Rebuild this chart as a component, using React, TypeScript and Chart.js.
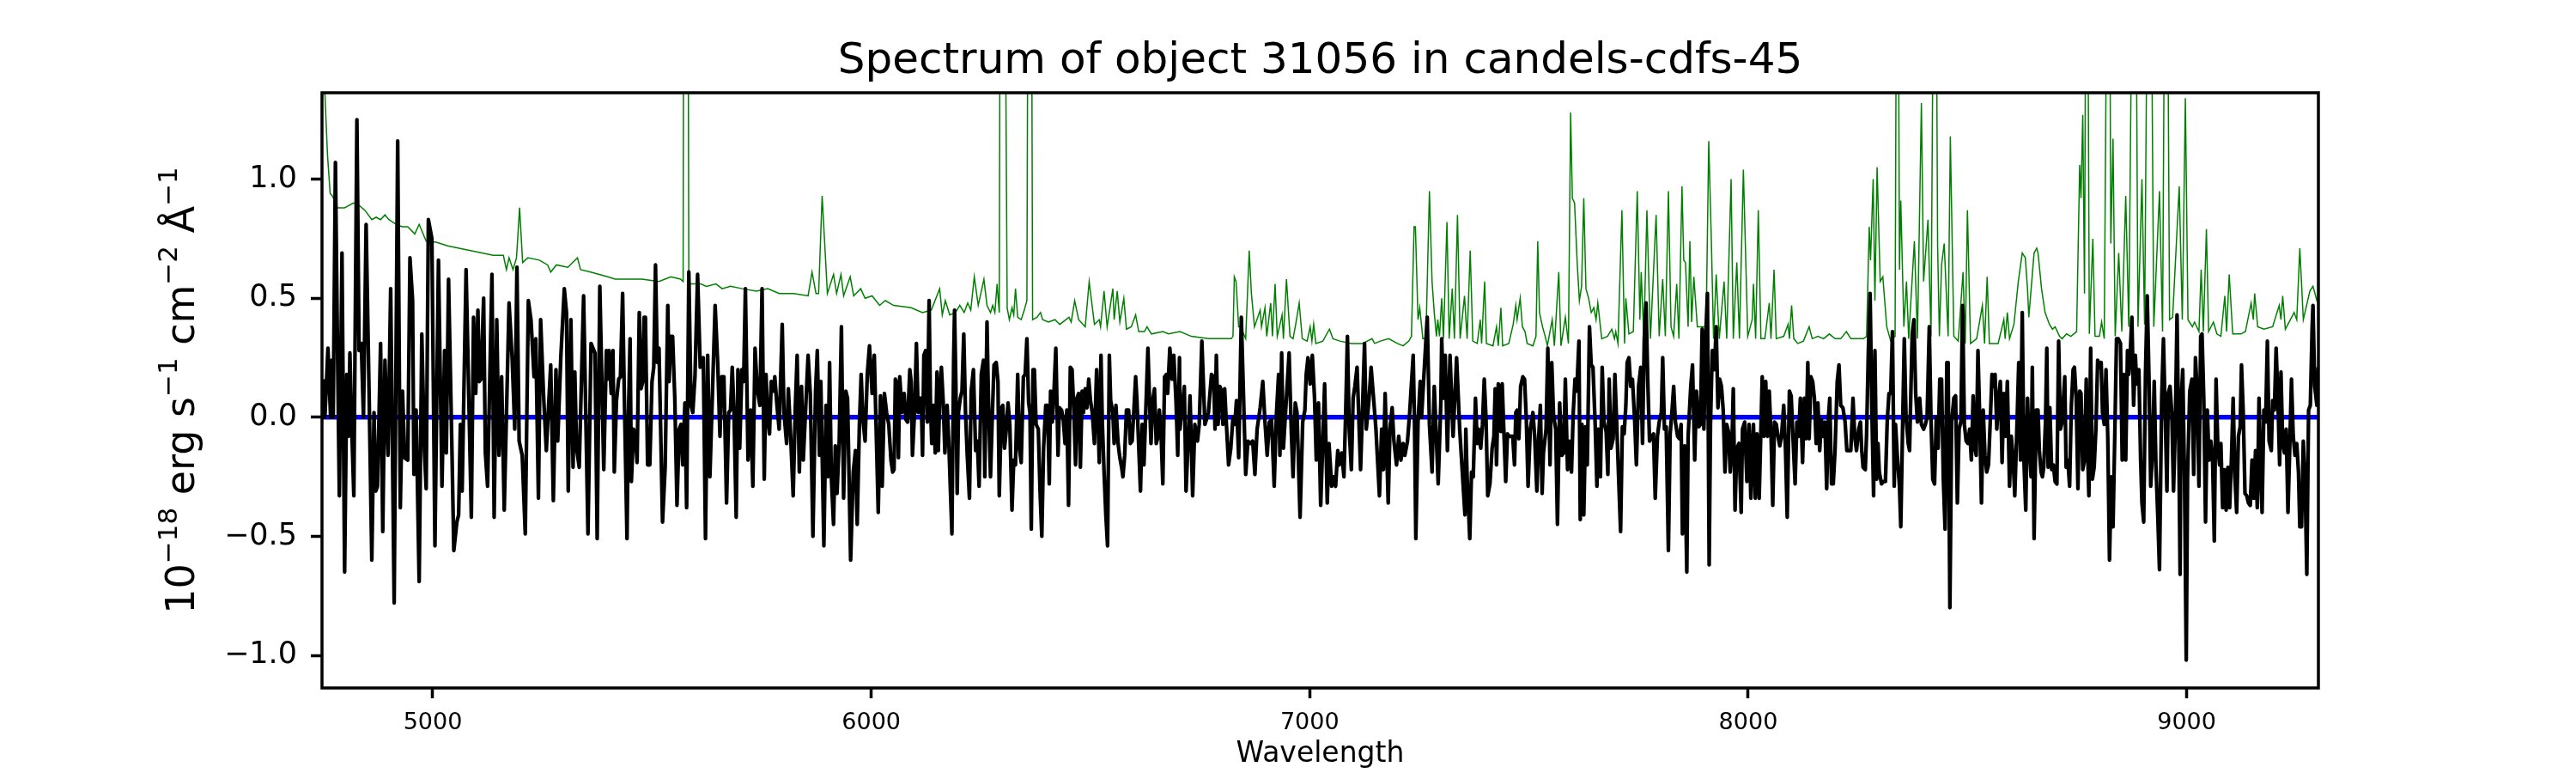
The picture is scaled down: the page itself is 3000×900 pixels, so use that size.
import React, { useEffect, useRef } from "react";
import { Chart, registerables } from "chart.js";

Chart.register(...registerables);

const TITLE = "Spectrum of object 31056 in candels-cdfs-45";
const X_LABEL = "Wavelength";
const xTicks = [5000, 6000, 7000, 8000, 9000];
const yTicks = [-1.0, -0.5, 0.0, 0.5, 1.0];
const xRange = [4747.4, 9300.4];
const yRange = [-1.137, 1.363];

// observed spectrum (black)
const specWave = [
  4750,4754,4761,4767,4770,4773,4778,4783,4787,4793,4799,4804,4808,4811,4815,4820,4827,4832,4837,4842,
  4848,4855,4861,4866,4870,4874,4881,4886,4891,4898,4904,4912,4920,4926,4931,4936,4943,4948,4954,4957,
  4962,4969,4975,4981,4985,4990,4998,5005,5013,5021,5027,5031,5036,5044,5048,5055,5059,5063,5067,5076,
  5088,5093,5098,5103,5106,5110,5116,5120,5125,5135,5140,5146,5151,5157,5163,5174,5181,5187,5192,5197,
  5204,5211,5218,5224,5231,5235,5241,5246,5253,5259,5262,5269,5275,5281,5285,5292,5300,5305,5309,5315,
  5320,5324,5328,5334,5344,5354,5361,5370,5375,5381,5390,5396,
  5399,5402,5407,5411,5414,5419,5424,5428,5433,5437,5443,5446,5450,5453,5458,5462,5466,5471,5475,5479,
  5482,5485,5490,5495,5500,5504,5508,5512,5516,5520,5524,5530,5536,5539,5543,5547,5552,5557,5562,5566,
  5570,5575,5579,5584,5589,5593,5598,5604,5610,5617,5622,5627,5632,5638,5644,5650,5655,5659,5664,5670,
  5675,5679,5683,5687,5692,5696,5700,5705,5709,5713,5719,5725,5730,5735,5740,5746,5751,5756,5760,5764,
  5768,5772,5777,5780,5785,5790,5797,5801,5807,5811,5816,5822,5827,5831,5836,5841,5845,5849,5856,5861,
  5867,5873,5877,5882,5885,5892,5897,5901,5905,5909,5914,5918,5922,5927,5932,5937,5942,5946,5953,5959,
  5964,5968,5973,5977,5981,5986,5991,5996,6002,6007,6012,6016,6021,6025,6030,6035,6040,6045,6049,
  6052,6055,6059,6062,6065,6070,6075,6079,6083,6088,6091,6094,6099,6103,6107,6111,6114,6117,6120,6124,
  6128,6132,6135,6138,6142,6146,6150,6153,6156,6160,6164,6168,6173,6177,6181,6184,6188,6190,6193,6196,
  6199,6203,6207,6211,6215,6219,6224,6228,6233,6238,6242,6246,6251,6256,6259,6264,6267,6272,6276,6280,
  6285,6289,6292,6297,6300,6304,6308,6312,6316,6321,6325,6329,6334,6338,6342,6347,6351,6355,6359,6362,
  6365,6369,6372,6376,6381,6385,6389,6393,6398,6402,6406,6409,6413,6417,6421,6426,6429,6434,6438,6442,
  6446,6450,6454,6458,6462,6466,6469,6473,6477,6481,6484,6488,6492,6496,6500,6504,6509,6514,6517,6520,
  6524,6527,6531,6535,6539,6543,6546,6551,6554,6558,6563,6567,6571,6574,6578,6582,6587,6591,6595,6599,
  6603,6606,6610,6614,6618,6622,6626,6631,6634,6638,6642,6646,6650,6653,6657,6661,6665,6669,6673,6676,
  6681,6686,6690,6695,6699,6703,
  6704,6714,6718,6727,6733,6738,6744,6748,6754,6761,6766,6769,6776,6781,6784,6787,6791,6795,6799,6802,
  6806,6810,6815,6820,6825,6829,6833,6838,6844,6854,6859,6865,6870,6875,6880,6887,6893,6898,6903,6908,
  6913,6919,6924,6929,6932,6936,6940,6953,6958,6962,6967,6971,6978,6984,6989,6992,6996,7001,7006,7011,
  7015,7020,7025,7029,7034,7040,7044,7050,7054,7059,7064,7067,7073,7078,7082,7086,7090,7095,7099,7103,
  7108,7116,7125,7129,7135,7140,7146,7151,7159,7164,7168,7172,7179,7183,7188,7192,7198,7203,7208,7213,
  7217,7223,7228,7236,7239,7242,7247,7252,7255,7268,7273,7279,7284,7293,7299,7301,7305,7309,7314,7320,
  7327,7335,7342,7354,
  7356,7359,7365,7369,7373,7378,7382,7385,7390,7394,7398,7402,7406,7411,7416,7420,7423,7426,7430,7433,
  7436,7439,7443,7447,7451,7455,7463,7467,7470,7473,7477,7481,7486,7490,7494,7498,7503,7509,7513,7518,
  7522,7526,7530,7533,7539,7543,7548,7552,7556,7561,7565,7570,7575,7579,7583,7588,7592,7597,7601,7605,
  7609,7614,7617,7621,7625,7629,7633,7638,7642,7646,7651,7655,7658,7663,7667,7671,7676,7680,7683,7687,
  7692,7696,7700,7705,7709,7713,7717,7721,7724,7728,7732,7736,7741,7745,7750,7755,7759,7763,7767,7771,
  7775,7780,7784,7788,7793,7797,7802,7805,7809,7813,7818,7822,7826,7830,7834,7839,7843,7847,7850,7855,
  7860,7863,7869,7873,7878,7882,7887,7891,7895,7899,7903,7907,7911,7914,7918,7923,7927,7931,7935,7939,
  7943,7947,7951,7955,7959,7963,7966,7970,7974,7979,7984,7987,7992,7997,8002,8006,
  8009,8012,8016,8020,8025,8029,8032,8036,8040,8044,8048,8052,8056,8060,8064,8068,8072,8076,8081,8085,
  8089,8094,8098,8102,8107,8111,8115,8119,8124,8128,8132,8136,8139,8143,8147,8151,8155,8159,8163,8167,
  8171,8175,8179,8183,8186,8190,8194,8198,8203,8207,8211,8216,8221,8225,8229,8234,8239,8243,8247,8252,
  8256,8259,8262,8267,8270,8274,8278,8282,8286,8289,8293,8296,8299,8304,8308,8313,8317,8321,8325,8329,
  8333,8336,8340,8345,8348,8352,8356,8360,8365,8368,8372,8374,8378,8382,8386,8391,8395,8400,8404,8408,
  8413,8417,8421,8425,8429,8433,8437,8441,8445,8449,8453,8456,8460,8464,8469,8473,8477,8481,8485,8489,
  8493,8497,8501,8505,8509,8513,8517,8520,8524,8528,8532,8536,8540,8544,8548,8552,8556,8560,8563,8567,
  8571,8575,8579,8583,8587,8591,8596,8600,8604,8608,8613,8617,8621,8625,8629,8633,8637,8640,8645,8648,
  8652,8657,
  8661,8664,8668,8671,8674,8678,8681,8684,8688,8692,8696,8700,8704,8708,8712,8716,8718,8722,8725,8729,
  8733,8737,8741,8744,8748,8752,8756,8759,8763,8767,8771,8773,8777,8781,8785,8789,8793,8797,8801,8805,
  8808,8812,8816,8820,8824,8828,8832,8836,8840,8844,8849,8853,8857,8861,8865,8868,8871,8875,8879,8883,
  8886,8891,8895,8898,8902,8906,8910,8914,8918,8922,8926,8930,8934,8938,8943,8947,8951,8955,8958,8962,
  8966,8970,8974,8978,8982,8985,8987,8991,8995,8999,9002,9007,9012,9016,9020,9024,9028,9032,9035,9039,
  9043,9047,9051,9055,9059,9063,9067,9071,9075,9078,9082,9086,9090,9094,9098,9102,9106,9110,9114,9118,
  9122,9125,9129,9133,9137,9141,9145,9149,9153,9157,9161,9165,9169,9172,9176,9180,9184,9188,9193,9196,
  9200,9204,9208,9212,9215,9219,9223,9227,9231,9235,9239,9243,9247,9251,9255,9258,9262,9266,9270,9274,
  9278,9282,9286,9288,9292,9297,9300,
];
const specFlux = [
  0.16,0,0.29,0,0.24,0,1.07,0.25,-0.33,0.69,-0.65,0.18,-0.08,0.27,-0.03,-0.33,1.25,0.28,0.31,0,
  0.81,0.08,-0.60,0.02,-0.31,-0.29,0.31,-0.48,0.24,-0.16,0.54,-0.78,1.16,-0.38,0.11,-0.17,-0.18,0.67,0.49,-0.24,
  0.03,-0.69,0.35,-0.14,-0.30,0.83,0.75,-0.54,0.66,-0.29,0.28,-0.15,0.58,-0.16,-0.56,-0.44,-0.41,-0.03,-0.31,0.62,
  -0.42,0.42,0.10,0.45,0.15,0.16,0.50,-0.15,-0.29,0.60,-0.42,0.41,-0.16,0.17,-0.39,0.48,0.25,-0.05,0.63,-0.10,
  -0.16,-0.49,0.49,0.41,0.17,0.33,-0.34,0.41,0.08,-0.14,-0.03,0.22,-0.35,0.20,-0.10,0.25,0.54,0.44,-0.31,0.41,
  -0.21,0.19,-0.13,-0.21,0.51,-0.49,0.31,0.27,-0.51,0.55,-0.22,0.28,
  0.16,0.28,0.10,0.28,-0.23,0.07,0.16,0.17,0.52,0.08,-0.51,-0.02,0.33,-0.27,-0.05,-0.07,-0.19,0.44,0.12,0.15,
  0.42,0.42,-0.20,-0.20,0.15,0.21,0.64,0.23,0.29,-0.07,-0.44,-0.21,0.47,0.15,0.34,0.34,0.08,-0.37,-0.05,-0.03,
  -0.20,0.06,-0.38,0.61,0.05,0.02,0.17,0.60,0.21,0.25,-0.51,0.26,-0.25,0.11,0.47,0.22,-0.08,0.17,0.17,-0.36,
  0.02,0.03,0.21,0.02,-0.42,0.20,-0.13,0.20,0.15,0.54,-0.18,0.03,-0.29,0.29,0.12,0.05,0.54,-0.26,0.18,0,
  -0.07,0.15,0.11,0.17,0.05,-0.05,0.39,0.02,-0.11,0.12,-0.07,-0.33,0.05,0.26,-0.23,0.13,-0.18,-0.02,0.26,0.10,
  -0.50,0.11,0.28,-0.16,0.15,-0.54,0.05,-0.25,0.23,-0.25,-0.45,-0.12,-0.32,-0.10,0.38,-0.34,0.11,0.08,-0.60,-0.23,
  -0.14,-0.45,-0.03,0.18,-0.01,-0.10,0.18,0.30,0.10,0.26,-0.11,-0.40,0.09,-0.29,0.10,0.02,-0.03,-0.18,-0.23,
  -0.22,0.16,0.14,-0.17,0.17,0.02,0.10,-0.01,-0.02,0.20,0.15,-0.16,0.03,0.31,0.02,0.08,0.08,-0.16,0.26,0.28,
  -0.02,0.49,0.06,-0.11,0.05,-0.15,0.19,-0.14,0.07,0.21,0.07,-0.15,0.05,-0.11,-0.33,-0.49,0.25,0.45,0.14,-0.32,
  0.02,0.08,0.11,0.35,0.02,-0.16,-0.34,0.11,0.20,-0.14,-0.10,-0.29,0.18,0.24,-0.25,0.40,0.10,-0.25,0,0.22,
  0.23,0.15,-0.33,0.04,0.05,-0.13,-0.05,0.06,-0.03,-0.39,-0.18,-0.20,0.18,-0.13,-0.19,0.17,0.18,0.33,0.06,0.02,
  -0.47,0.20,0.20,-0.03,-0.05,-0.31,-0.50,-0.13,0.05,0.05,-0.28,0.11,-0.02,0.12,0.29,-0.16,0.04,0.03,-0.01,-0.11,
  0.03,-0.37,0.21,0.20,0.03,-0.20,0.08,0.10,-0.21,0.11,0.02,0.12,0.04,0.16,0.07,0.02,-0.11,0.20,0.02,-0.19,
  0.26,-0.02,-0.23,-0.41,-0.54,0.26,0.07,0.02,-0.11,0.05,-0.11,-0.17,-0.21,-0.25,-0.16,0.03,0.03,-0.11,-0.10,0.03,
  0.17,0.07,-0.12,-0.31,-0.03,-0.20,0.02,0.29,0.11,-0.11,0.07,0.12,-0.11,-0.09,0.03,-0.07,-0.28,0.17,0.18,0.10,
  0.29,0.16,0.26,0.07,-0.16,0.25,
  -0.05,0.13,-0.31,0.09,-0.33,-0.03,-0.10,-0.03,0.32,-0.03,0,0.02,0.18,0.17,-0.05,0.26,-0.03,0.13,0.11,-0.03,
  0.12,-0.03,-0.20,-0.13,0,-0.03,0.07,-0.17,0.42,-0.24,-0.10,-0.11,-0.10,-0.24,-0.05,0.04,0.15,-0.02,-0.16,-0.02,
  -0.01,-0.29,0.01,0.18,-0.16,0.27,-0.13,0.27,-0.06,-0.25,0.06,0.02,-0.42,-0.02,0.03,0.18,0.25,0.14,0.26,0.08,
  -0.18,0.06,-0.37,-0.15,0.14,-0.36,-0.11,-0.29,-0.25,-0.29,-0.14,-0.20,-0.15,-0.25,0.02,0.34,-0.05,-0.22,0.08,0.13,
  0.21,-0.22,0.31,-0.05,0.07,0.21,0.07,-0.05,-0.33,-0.05,-0.22,0.10,-0.36,-0.05,0.04,-0.10,-0.20,-0.08,-0.18,-0.11,
  -0.16,-0.10,0.02,0.26,-0.03,-0.51,-0.02,0.15,0,0.42,-0.03,-0.23,0.13,-0.28,0.06,0.33,0.08,0.26,-0.14,0.26,
  -0.08,0.25,-0.05,-0.41,
  -0.05,-0.25,-0.51,-0.23,-0.25,0.08,-0.11,-0.05,-0.13,-0.03,0.16,0,-0.33,-0.28,-0.13,-0.08,0.12,-0.20,0.14,0.13,
  -0.06,0.14,-0.07,-0.27,-0.07,-0.08,-0.08,-0.20,0.02,0.03,-0.09,0.13,0.17,0.16,-0.01,-0.29,-0.05,0.02,-0.08,-0.31,
  -0.09,0.05,-0.32,-0.15,-0.05,0.29,-0.20,0.23,0.01,-0.05,-0.45,0.06,-0.16,-0.15,0.16,-0.22,-0.10,-0.23,0.02,0.16,
  0.11,0.32,-0.43,-0.03,-0.41,-0.04,-0.20,0.38,0.22,0.21,-0.03,-0.29,-0.05,-0.25,0.21,-0.02,-0.06,-0.24,0.16,-0.13,
  -0.09,0.18,-0.02,-0.28,-0.48,-0.04,-0.07,0.05,0.23,0.25,0.13,0.16,-0.01,-0.20,0.13,0.21,-0.11,0.33,0.48,0.15,
  -0.10,-0.08,-0.07,-0.34,-0.08,-0.02,0.02,0.25,-0.05,-0.04,-0.56,-0.07,0.02,0.13,-0.02,-0.08,-0.09,-0.03,-0.49,-0.12,
  -0.65,-0.08,0.13,0.22,-0.18,0.11,-0.04,-0.03,0.37,-0.05,0.33,0.52,-0.62,-0.03,0.28,0.20,0.38,0.04,0.16,0.13,
  0.03,-0.23,-0.03,-0.06,-0.23,-0.11,0.12,-0.39,-0.13,-0.11,-0.40,-0.05,-0.02,-0.27,-0.03,-0.34,
  -0.15,-0.03,-0.34,-0.07,-0.34,-0.05,0.17,-0.08,0.15,-0.08,0.11,-0.07,-0.37,-0.02,-0.03,-0.08,-0.12,-0.08,0.05,-0.13,
  -0.42,0.11,0.09,-0.08,-0.28,-0.02,-0.08,0.08,-0.19,0.08,-0.09,0.23,-0.09,0.17,0.15,0.08,-0.11,0.06,-0.14,-0.01,
  -0.08,-0.02,-0.30,0,0.08,-0.28,-0.28,-0.14,0.15,0.22,0.05,0.04,-0.02,-0.14,-0.14,-0.14,0.08,-0.08,-0.14,-0.05,
  -0.02,-0.14,-0.21,-0.22,-0.07,0.28,0.52,0.03,-0.33,0.28,-0.26,-0.11,-0.23,-0.28,-0.27,-0.27,-0.02,0.10,0.10,0.36,
  -0.29,-0.03,-0.16,-0.29,-0.46,-0.05,0.33,0,-0.11,-0.14,0.19,0.35,0.41,0.10,-0.02,0.08,-0.03,-0.05,-0.03,0,
  0.38,-0.02,-0.26,-0.28,0,-0.13,0.16,0.16,-0.26,-0.47,0.23,0.23,-0.80,-0.02,0.08,0.09,-0.36,-0.05,-0.02,0.47,
  -0.03,-0.10,-0.11,-0.05,-0.18,0.09,-0.13,-0.16,0.28,0,-0.36,0.03,-0.16,-0.23,-0.20,-0.02,0.18,0.13,0.18,-0.05,
  0.08,0.15,-0.19,0.10,-0.08,0.15,-0.29,-0.08,-0.17,-0.33,-0.03,0.23,-0.18,0.44,-0.19,-0.39,0.08,-0.08,-0.25,0.21,
  -0.51,0.03,
  0.03,-0.14,-0.23,-0.25,-0.21,-0.02,0.29,-0.21,0.04,-0.22,-0.20,-0.27,-0.28,0.32,-0.05,-0.02,0.05,0.17,-0.21,-0.18,
  -0.29,0.05,0.20,0.21,0.08,-0.30,0.11,0.10,-0.22,-0.18,0.16,-0.08,-0.33,0.29,-0.26,-0.21,-0.05,0.24,0.21,0.23,
  0.02,-0.03,0.20,-0.08,-0.60,-0.25,-0.46,-0.08,0.33,0.33,0.31,-0.18,0.18,-0.18,0.28,0.18,0.26,0.42,0.05,0.26,
  0.14,0.20,-0.18,-0.36,-0.44,0.18,0.51,0.17,-0.29,-0.15,0.15,-0.21,-0.41,-0.64,0.08,0.33,0.02,-0.31,0.10,0.13,
  0.02,-0.31,-0.04,0.43,-0.11,-0.66,0.05,0.20,-0.25,-1.02,-0.25,0.11,0.16,-0.24,0.25,0.11,-0.29,0.34,0.35,0.08,
  -0.44,0.03,-0.18,-0.10,-0.17,-0.52,0.16,-0.12,-0.20,-0.11,-0.38,-0.22,-0.39,-0.21,-0.38,-0.18,0.08,-0.25,-0.40,-0.08,
  -0.04,0.22,0.02,-0.32,-0.33,-0.36,-0.37,-0.18,-0.34,-0.14,-0.38,0.08,-0.25,-0.40,0.03,-0.02,0.32,-0.10,-0.14,0.07,
  0.03,0.29,0.08,-0.20,0.19,-0.11,-0.15,-0.05,-0.40,-0.13,0.16,-0.08,-0.16,-0.11,-0.23,-0.46,-0.46,-0.10,-0.27,-0.66,
  0.03,0.05,0.37,0.47,0.13,0.05,0.21,
];

// noise / sky spectrum (green); values of 3.0 are lines running off the top of the axes
const skyWave = [
  4747,4754,4760,4766,4771,4783,4799,4819,4832,4845,4861,4871,4881,4891,4900,4917,4930,4943,4959,4969,
  4985,5008,5034,5060,5086,5112,5138,5161,5168,5174,5183,5191,5198,5205,5217,5243,5262,5269,5282,5308,
  5330,5337,5360,5399,
  5416,5438,5477,5516,5543,5565,5571,5573,5581,5584,5601,5611,5624,5646,5660,5679,5706,5738,5764,5790,
  5823,5856,5865,5874,5880,5888,5893,5900,5914,5921,5931,5937,5952,5960,5976,5986,6002,6019,6032,6051,
  6091,6117,6137,6156,6162,6169,6179,6192,6202,6212,6220,6227,6235,6244,6257,6264,6272,6277,6282,6287,
  6292,6295,6302,6310,6315,6321,6325,6329,6334,6342,6349,6355,6359,6364,6368,6378,6386,6391,6404,6419,
  6430,6451,6456,6464,6473,6488,6497,6509,6520,6523,6531,6538,6551,6554,6561,6567,6576,6582,6593,6603,
  6610,6623,6629,6639,6665,6678,6704,
  6730,6769,6802,6821,6825,6828,6832,6838,6842,6854,6862,6867,6874,6887,6890,6898,6902,6911,6915,6921,
  6926,6937,6940,6947,6955,6962,6968,6976,6983,6994,7001,7005,7009,7014,7030,7045,7053,7069,7095,7121,
  7142,7148,7161,7180,7200,7213,7226,7232,7238,7241,7247,7251,7258,7265,7273,7279,7284,7289,7292,7296,
  7301,7305,7313,7318,7325,7330,7337,7343,7353,
  7359,7366,7372,7382,7389,7392,7399,7403,7418,7426,7430,7436,7440,7454,7464,7470,7473,7480,7485,7491,
  7496,7509,7516,7520,7524,7531,7537,7542,7553,7558,7568,7573,7583,7590,7595,7599,7604,7610,7615,7620,
  7625,7630,7636,7642,7648,7653,7657,7666,7679,7689,7695,7698,7703,7712,7718,7721,7728,7738,7747,7753,
  7756,7762,7769,7777,7790,7797,7805,7811,7818,7824,7830,7837,7842,7849,7853,7857,7863,7867,7871,7876,
  7884,7891,7904,7910,7916,7921,7927,7934,7945,7951,7961,7966,7974,7980,7989,7999,
  8009,8012,8017,8023,8029,8038,8048,8052,8059,8064,8081,8091,8094,8099,8104,8113,8126,8139,8146,8159,
  8172,8185,8198,8211,8224,8234,8263,8270,8276,8279,8285,8289,8294,8301,8307,8316,8325,8335,8340,8345,
  8348,8355,8361,8366,8379,8386,8395,8400,8410,8417,8426,8432,8436,8441,8447,8456,8461,8469,8479,8490,
  8495,8500,8507,8521,8534,8539,8545,8550,8570,8583,8586,8591,8596,8606,8616,8625,8632,8637,8640,8652,
  8658,
  8661,8669,8677,8687,8694,8700,8710,8716,8726,8736,8749,8756,8759,8763,8767,8772,8778,8786,8791,8801,
  8806,8812,8822,8827,8832,8837,8845,8852,8861,8868,8881,8889,8898,8904,8915,8925,8938,8945,8953,8961,
  8968,8983,8990,8997,9003,9013,9018,9028,9033,9038,9045,9050,9061,9069,9078,9087,9091,9097,9105,9124,
  9134,9147,9152,9155,9162,9176,9196,9211,9215,9219,9225,9245,9251,9258,9266,9281,9288,9297,9301,
];
const skyFlux = [
  1.50,1.36,1.10,0.94,0.93,0.88,0.88,0.90,0.89,0.87,0.83,0.84,0.83,0.85,0.83,0.81,0.80,0.80,0.77,0.81,
  0.74,0.735,0.72,0.71,0.70,0.69,0.68,0.68,0.62,0.67,0.62,0.67,0.88,0.65,0.67,0.66,0.64,0.61,0.64,0.63,
  0.67,0.62,0.61,0.59,
  0.58,0.58,0.58,0.57,0.59,0.58,0.57,3.0,3.0,0.56,0.56,0.56,0.55,0.56,0.54,0.55,0.54,0.53,0.54,0.52,
  0.52,0.51,0.61,0.52,0.52,0.93,0.76,0.52,0.60,0.52,0.60,0.51,0.59,0.51,0.54,0.50,0.51,0.47,0.49,0.47,
  0.46,0.44,0.45,0.54,0.43,0.49,0.43,0.44,0.47,0.44,0.48,0.45,0.59,0.47,0.58,0.47,0.44,0.47,0.44,0.56,
  0.44,3.0,3.0,0.46,0.41,0.46,0.43,0.54,0.42,0.41,0.45,0.49,3.0,3.0,0.41,0.42,0.44,0.41,0.40,0.41,
  0.39,0.42,0.40,0.49,0.41,0.38,0.57,0.39,0.41,0.38,0.53,0.38,0.54,0.41,0.53,0.40,0.50,0.37,0.38,0.43,
  0.36,0.36,0.38,0.35,0.36,0.35,0.36,
  0.34,0.33,0.33,0.33,0.34,0.59,0.57,0.38,0.38,0.33,0.70,0.52,0.38,0.45,0.38,0.46,0.34,0.48,0.34,0.56,
  0.34,0.43,0.33,0.58,0.34,0.33,0.39,0.48,0.33,0.32,0.38,0.32,0.39,0.31,0.32,0.37,0.33,0.32,0.31,0.31,
  0.33,0.31,0.32,0.33,0.31,0.30,0.32,0.34,0.80,0.80,0.41,0.46,0.33,0.33,0.95,0.57,0.44,0.34,0.41,0.34,
  0.50,0.33,0.82,0.33,0.54,0.33,0.85,0.33,0.51,
  0.33,0.70,0.32,0.31,0.41,0.31,0.57,0.31,0.30,0.38,0.30,0.46,0.30,0.31,0.39,0.47,0.41,0.50,0.38,0.36,
  0.31,0.30,0.34,0.74,0.44,0.38,0.34,0.30,0.41,0.30,0.61,0.30,0.42,0.31,1.28,0.92,0.90,0.65,0.49,0.55,
  0.92,0.54,0.50,0.44,0.46,0.41,0.48,0.33,0.34,0.37,0.33,0.36,0.31,0.87,0.31,0.50,0.35,0.36,0.95,0.41,
  0.61,0.33,0.87,0.33,0.85,0.34,0.58,0.34,0.95,0.38,0.34,0.56,0.33,0.97,0.66,0.65,0.38,0.74,0.40,0.59,
  0.38,0.38,0.38,1.16,0.74,0.33,0.60,0.33,0.57,0.33,1.00,0.33,0.65,0.33,1.04,0.34,
  0.41,0.56,0.33,0.87,0.33,0.33,0.48,0.33,0.62,0.33,0.34,0.39,0.33,0.47,0.33,0.31,0.32,0.38,0.33,0.34,
  0.33,0.35,0.33,0.33,0.36,0.33,0.33,0.34,0.80,0.66,1.00,0.49,1.05,0.57,0.59,0.38,0.32,0.34,3.0,0.62,
  0.91,0.38,0.57,0.33,0.74,0.33,1.32,0.57,0.83,0.34,3.0,0.72,0.34,0.64,0.73,0.34,1.18,0.34,0.32,0.61,
  0.31,0.87,0.31,0.33,0.47,0.31,0.59,0.31,0.31,0.41,0.33,0.44,0.33,0.39,0.57,0.69,0.67,0.54,0.42,0.69,
  0.71,
  0.69,0.54,0.44,0.39,0.37,0.38,0.34,0.33,0.35,0.34,0.36,1.06,0.92,1.27,0.52,3.0,0.35,0.75,0.34,0.34,
  0.40,0.33,3.0,0.73,1.17,0.34,0.69,0.36,0.93,0.38,3.0,0.38,1.00,0.39,3.0,0.38,0.95,0.36,3.0,0.41,
  0.42,0.97,0.41,1.34,0.41,0.38,0.40,0.36,0.62,0.36,0.79,0.36,0.40,0.35,0.34,0.51,0.36,0.60,0.35,0.35,
  0.36,0.48,0.41,0.52,0.38,0.37,0.38,0.47,0.41,0.51,0.37,0.44,0.41,0.71,0.41,0.53,0.55,0.49,0.50,
];

// zero reference (blue)
const zeroWave = [4740, 9310];
const zeroFlux = [0, 0];

const FONT = "'DejaVu Sans', 'Liberation Sans', sans-serif";

// y-axis label as [text, isSuperscript]
const yLabelParts: [string, boolean][] = [
  ["10", false],
  ["\u221218", true],
  [" erg s", false],
  ["\u22121", true],
  [" cm", false],
  ["\u22122", true],
  [" \u00C5", false],
  ["\u22121", true],
];

function pairs(xs: number[], ys: number[]) {
  const n = Math.min(xs.length, ys.length);
  const out: { x: number; y: number }[] = [];
  for (let i = 0; i < n; i++) out.push({ x: xs[i], y: ys[i] });
  return out;
}

const decorPlugin = {
  id: "decor",
  afterDatasetsDraw(chart: any) {
    const { ctx, chartArea: a } = chart;
    ctx.save();
    ctx.strokeStyle = "#000";
    ctx.lineWidth = 3.5;
    ctx.strokeRect(a.left, a.top, a.right - a.left, a.bottom - a.top);
    ctx.restore();
  },
  afterDraw(chart: any) {
    const { ctx, chartArea: a } = chart;
    const cx = (a.left + a.right) / 2;
    const cy = (a.top + a.bottom) / 2;
    ctx.save();
    ctx.fillStyle = "#000";
    ctx.textAlign = "center";
    ctx.textBaseline = "alphabetic";
    ctx.font = `50px ${FONT}`;
    ctx.fillText(TITLE, cx, a.top - 23);
    ctx.font = `33px ${FONT}`;
    ctx.fillText(X_LABEL, cx, a.bottom + 86);

    // rotated y label with superscripts
    const baseFont = `46px ${FONT}`;
    const supFont = `31px ${FONT}`;
    const raise = 20;
    let total = 0;
    const widths: number[] = [];
    for (const [t, sup] of yLabelParts) {
      ctx.font = sup ? supFont : baseFont;
      const w = ctx.measureText(t).width;
      widths.push(w);
      total += w;
    }
    ctx.translate(a.left - 149, cy);
    ctx.rotate(-Math.PI / 2);
    ctx.textAlign = "left";
    let x = -total / 2;
    yLabelParts.forEach(([t, sup], i) => {
      ctx.font = sup ? supFont : baseFont;
      ctx.fillText(t, x, sup ? -raise : 0);
      x += widths[i];
    });
    ctx.restore();
  },
};

export default function App() {
  const ref = useRef<HTMLCanvasElement | null>(null);

  useEffect(() => {
    document.body.style.margin = "0";
    const canvas = ref.current;
    if (!canvas) return;
    const chart = new Chart(canvas, {
      type: "line",
      data: {
        datasets: [
          {
            label: "flux",
            data: pairs(specWave, specFlux),
            borderColor: "#000000",
            borderWidth: 4.3,
            pointRadius: 0,
            tension: 0,
            borderJoinStyle: "round",
            clip: 0,
          },
          {
            label: "zero",
            data: pairs(zeroWave, zeroFlux),
            borderColor: "#0000ff",
            borderWidth: 5.5,
            pointRadius: 0,
            tension: 0,
            clip: 0,
          },
          {
            label: "noise",
            data: pairs(skyWave, skyFlux),
            borderColor: "#008000",
            borderWidth: 1.5,
            pointRadius: 0,
            tension: 0,
            clip: 0,
          },
        ],
      } as any,
      options: {
        animation: false,
        responsive: false,
        devicePixelRatio: 1,
        events: [],
        layout: { padding: { left: 0, right: 300, top: 108, bottom: 0 } },
        plugins: {
          legend: { display: false },
          title: { display: false },
          tooltip: { enabled: false },
        },
        scales: {
          x: {
            type: "linear",
            min: xRange[0],
            max: xRange[1],
            bounds: "data",
            afterBuildTicks: (s: any) => {
              s.ticks = xTicks.map((v) => ({ value: v }));
            },
            afterFit: (s: any) => {
              s.height = 99;
            },
            border: { display: false },
            grid: {
              display: true,
              drawOnChartArea: false,
              drawTicks: true,
              tickLength: 12,
              tickWidth: 3.5,
              tickColor: "#000",
            },
            ticks: {
              autoSkip: false,
              maxRotation: 0,
              padding: 13,
              color: "#000",
              font: { family: FONT, size: 27 },
              callback: (v: any) => String(v),
            },
          },
          y: {
            type: "linear",
            min: yRange[0],
            max: yRange[1],
            bounds: "data",
            afterBuildTicks: (s: any) => {
              s.ticks = yTicks.map((v) => ({ value: v }));
            },
            afterFit: (s: any) => {
              s.width = 375;
            },
            border: { display: false },
            grid: {
              display: true,
              drawOnChartArea: false,
              drawTicks: true,
              tickLength: 13,
              tickWidth: 3.5,
              tickColor: "#000",
            },
            ticks: {
              autoSkip: false,
              padding: 16,
              color: "#000",
              font: { family: FONT, size: 35 },
              callback: (v: any) => {
                const n = Number(v);
                const s = Math.abs(n).toFixed(1);
                return n < 0 ? "\u2212" + s : s;
              },
            },
          },
        },
      } as any,
      plugins: [decorPlugin],
    });
    return () => chart.destroy();
  }, []);

  return (
    <canvas
      ref={ref}
      width={3000}
      height={900}
      style={{ display: "block", width: "3000px", height: "900px" }}
    />
  );
}
